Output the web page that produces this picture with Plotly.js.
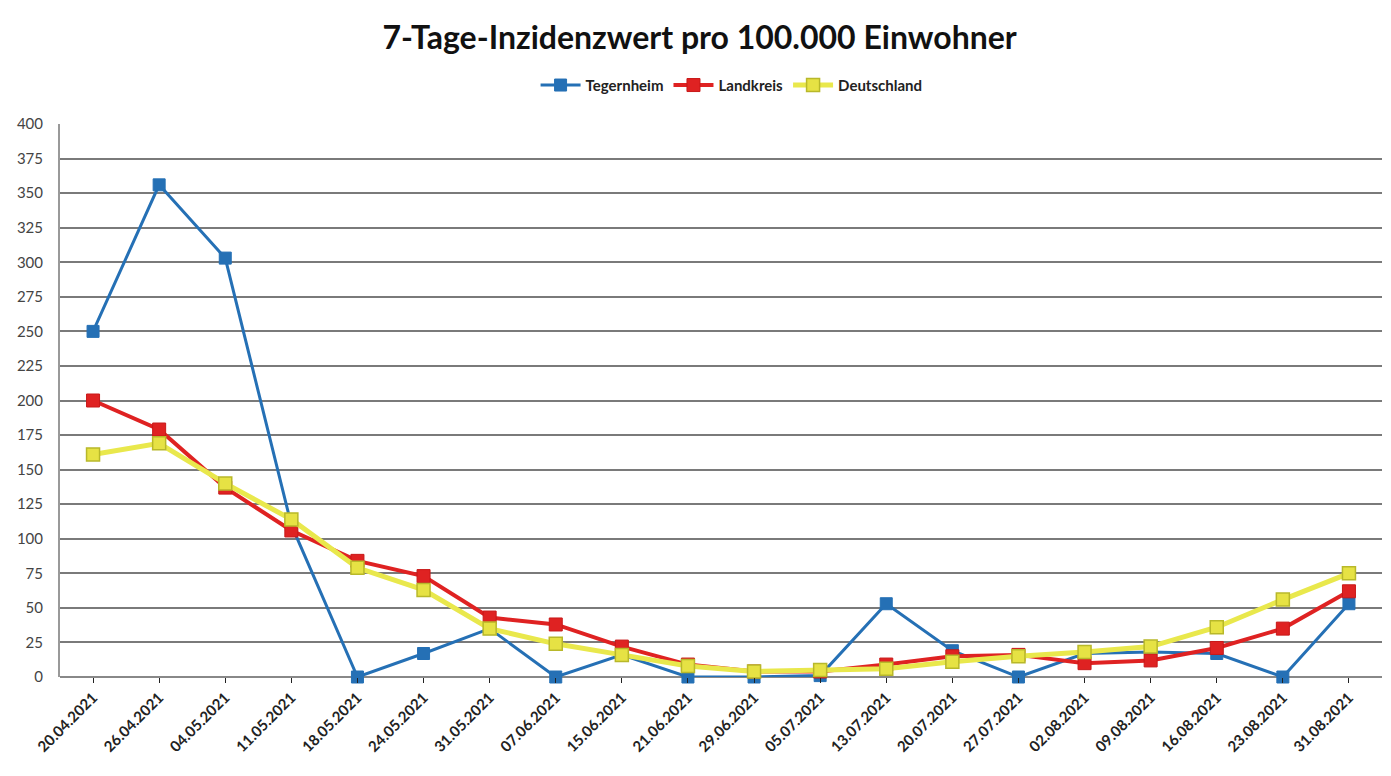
<!DOCTYPE html>
<html><head><meta charset="utf-8">
<script src="https://cdn.plot.ly/plotly-3.0.1.min.js"></script>
<style>html,body{margin:0;padding:0;background:#fff}#c{width:1391px;height:776px}</style>
</head><body><div id="c"></div>
<script>
const dates = ["20.04.2021","26.04.2021","04.05.2021","11.05.2021","18.05.2021","24.05.2021","31.05.2021","07.06.2021","15.06.2021","21.06.2021","29.06.2021","05.07.2021","13.07.2021","20.07.2021","27.07.2021","02.08.2021","09.08.2021","16.08.2021","23.08.2021","31.08.2021"];
const xLabels = ["20.04.2021","26.04.2021","04.05.2021","11.05.2021","18.05.2021","24.05.2021","31.05.2021","07.06.2021","15.06.2021","21.06.2021","29.06.2021","05.07.2021","13.07.2021","20.07.2021","27.07.2021","02.08.2021","09.08.2021","16.08.2021","23.08.2021","31.08.2021"];
const tegernheim = [250, 356, 303, 110, 0, 17, 35, 0, 16, 0, 0, 1, 53, 19, 0, 17, 18, 17, 0, 53];
const landkreis = [200, 179, 137, 106, 84, 73, 43, 38, 22, 9, 4, 4, 9, 15, 16, 10, 12, 21, 35, 62];
const deutschland = [161, 169, 140, 114, 79, 63, 35, 24, 16, 8, 4, 5, 6, 11, 15, 18, 22, 36, 56, 75];
const yTicks = [0,25,50,75,100,125,150,175,200,225,250,275,300,325,350,375,400];

const xs = dates.map((d,i)=>i);
const traces = [
  {name:"Tegernheim", x:xs, y:tegernheim, mode:"lines+markers", cliponaxis:false, line:{color:"#2570b5", width:3}, marker:{symbol:"square", size:12, color:"#2570b5", line:{color:"#2570b5", width:1}}},
  {name:"Landkreis", x:xs, y:landkreis, mode:"lines+markers", cliponaxis:false, line:{color:"#df2222", width:4}, marker:{symbol:"square", size:13, color:"#df2222", line:{color:"#c81818", width:1}}},
  {name:"Deutschland", x:xs, y:deutschland, mode:"lines+markers", cliponaxis:false, line:{color:"#e9e84c", width:5}, marker:{symbol:"square", size:13, color:"#e6e244", line:{color:"#b8b82a", width:1.5}}}
];
const layout = {
  width:1391, height:776,
  paper_bgcolor:"#ffffff", plot_bgcolor:"#ffffff",
  margin:{l:60, r:9, t:124, b:99},
  font:{family:"Lato, 'Open Sans', sans-serif", color:"#222"},
  title:{text:"7-Tage-Inzidenzwert pro 100.000 Einwohner", x:0.503, xanchor:"center", y:0.951, yanchor:"middle", yref:"container", font:{size:32, color:"#111", weight:"bold"}},
  showlegend:true,
  legend:{orientation:"h", x:0.508, xanchor:"center", y:1.07, yanchor:"middle", font:{size:15, color:"#222", weight:"bold"}, bgcolor:"rgba(0,0,0,0)", itemwidth:40, traceorder:"normal"},
  xaxis:{range:[-0.5, dates.length-0.5], tickmode:"array", tickvals:xs, ticktext:xLabels, tickangle:-45, tickfont:{size:15, color:"#222", weight:"bold"}, showgrid:false, zeroline:false, showline:false, ticks:"outside", ticklen:5, tickcolor:"#222", fixedrange:true},
  yaxis:{range:[0,400], tickmode:"array", tickvals:yTicks, ticktext:yTicks.map(String), tickfont:{size:15, color:"#444"}, showgrid:true, gridcolor:"#7a7a7a", gridwidth:2, zeroline:true, zerolinecolor:"#888", zerolinewidth:2, showline:true, linecolor:"#999", linewidth:2, ticks:"", ticklabelstandoff:12, fixedrange:true}
};
Plotly.newPlot("c", traces, layout, {displayModeBar:false, staticPlot:true});
</script></body></html>
